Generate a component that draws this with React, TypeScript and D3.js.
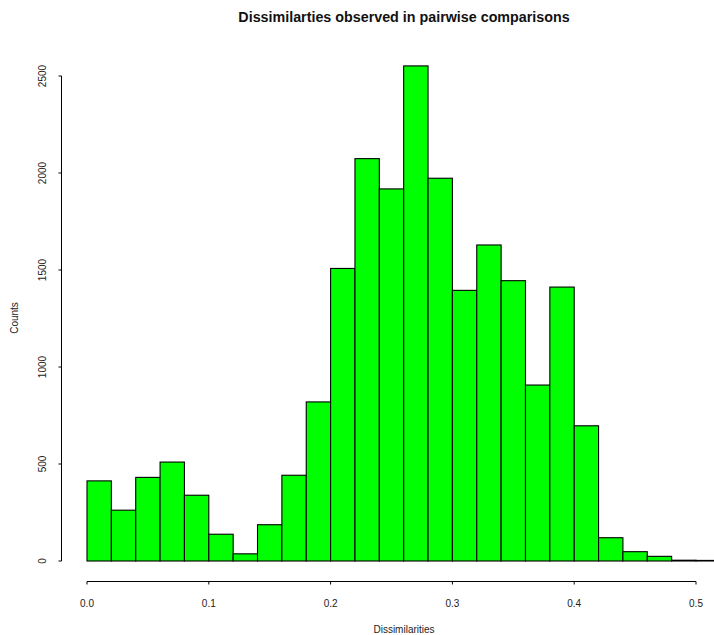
import React, { useEffect } from 'react';
import * as d3 from 'd3';

// histogram bins (width 0.02) and counts
const binStarts = [0, 0.02, 0.04, 0.06, 0.08, 0.1, 0.12, 0.14, 0.16, 0.18, 0.2, 0.22, 0.24,
  0.26, 0.28, 0.3, 0.32, 0.34, 0.36, 0.38, 0.4, 0.42, 0.44, 0.46, 0.48, 0.5];
const counts = [413, 262, 431, 510, 339, 138, 37, 187, 442, 820, 1508, 2074, 1918,
  2552, 1973, 1395, 1629, 1445, 907, 1412, 697, 120, 48, 24, 4, 3];
const binWidth = 0.02;
const xTicks = [0, 0.1, 0.2, 0.3, 0.4, 0.5];
const yTicks = [0, 500, 1000, 1500, 2000, 2500];

const W = 714;
const H = 635;
const font = '"Liberation Sans", Arial, sans-serif';

const App = () => {
  useEffect(() => {
    document.body.style.margin = '0';
  }, []);

  const x = d3.scaleLinear().domain([0, 0.5]).range([87, 696]);
  const y = d3.scaleLinear().domain([0, 2500]).range([561, 76]);
  const fmt = d3.format('.1f');
  const axisY = 581.5;
  const axisX = 61.5;

  return (
    <svg width={W} height={H} style={{ display: 'block', background: '#fff' }} fontFamily={font}>
      <text x={404} y={22} textAnchor="middle" fontSize={14.3} fontWeight="bold" fill="#111">
        Dissimilarties observed in pairwise comparisons
      </text>

      {binStarts.map((b, i) => (
        <rect key={i}
          x={x(b)} y={y(counts[i])}
          width={x(b + binWidth) - x(b)} height={y(0) - y(counts[i])}
          fill="#00ff00" stroke="#000" strokeWidth={1.1} />
      ))}

      {/* x axis */}
      <line x1={x(xTicks[0])} x2={x(xTicks[xTicks.length - 1])} y1={axisY} y2={axisY} stroke="#000" />
      {xTicks.map(t => (
        <g key={t}>
          <line x1={x(t)} x2={x(t)} y1={axisY} y2={axisY + 3} stroke="#000" />
          <text x={x(t)} y={axisY + 25} textAnchor="middle" fontSize={10} fill="#222">{fmt(t)}</text>
        </g>
      ))}
      <text x={404} y={633} textAnchor="middle" fontSize={10} fill="#222">Dissimilarities</text>

      {/* y axis */}
      <line x1={axisX} x2={axisX} y1={y(yTicks[0])} y2={y(yTicks[yTicks.length - 1])} stroke="#000" />
      {yTicks.map(t => (
        <g key={t}>
          <line x1={axisX - 3} x2={axisX} y1={y(t)} y2={y(t)} stroke="#000" />
          <text transform={`translate(${axisX - 16},${y(t)}) rotate(-90)`} textAnchor="middle"
            fontSize={10} fill="#222">{t}</text>
        </g>
      ))}
      <text transform={`translate(18,318) rotate(-90)`} textAnchor="middle" fontSize={10} fill="#222">Counts</text>
    </svg>
  );
};

export default App;
